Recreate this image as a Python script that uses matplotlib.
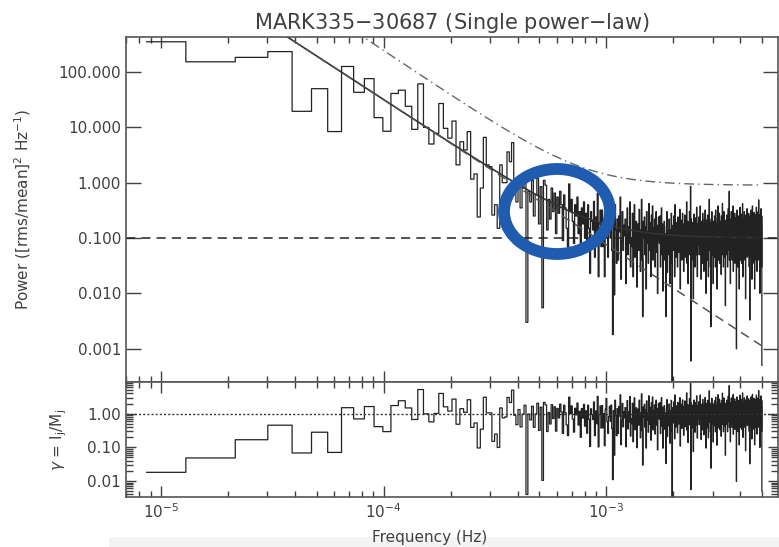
import numpy as np
import matplotlib
matplotlib.use('Agg')
import matplotlib.pyplot as plt
from matplotlib.patches import Ellipse, Rectangle
from matplotlib.ticker import FixedLocator, FixedFormatter, LogLocator, NullFormatter

# periodogram of MARK335 obs 30687, evenly spaced frequencies j*df
df = 8.63e-6  # Hz

# j = 1..40
power_low = [352, 153, 184, 234, 19.5, 50, 8.4, 126, 43, 76,
             15, 8.5, 41, 47, 24, 9.2, 61, 10, 5.0, 7.8,
             27, 9.6, 6.4, 13, 2.1, 5.5, 3.9, 8.4, 1.16, 1.44,
             0.24, 0.80, 6.6, 2.1, 1.95, 0.26, 0.40, 0.15, 2.1, 1.0]

# j = 41..100
power_mid = [1.0, 3.6, 2.4, 5.3, 0.9, 0.45, 1.2, 0.35, 0.8, 1.4,
             0.003, 0.7, 0.45, 1.1, 0.25, 0.6, 1.2, 0.18, 0.85, 0.0055,
             1.1, 0.9, 0.14, 0.5, 0.22, 0.8, 0.3, 0.65, 0.12, 0.55,
             0.28, 0.7, 0.4, 0.09, 0.6, 0.35, 0.15, 0.07, 0.95, 0.3,
             0.5, 0.2, 0.08, 0.4, 0.25, 0.55, 0.12, 0.3, 0.05, 0.35,
             0.18, 0.45, 0.1, 0.28, 0.06, 0.4, 0.15, 0.023, 0.3, 0.2]

# j = 101..579, noise dominated part
power_high = [
    0.14, 0.46, 0.045, 0.24, 0.1, 0.64, 0.02, 0.18, 0.32, 0.07,
    0.32, 0.07, 0.18, 0.02, 0.24, 0.5, 0.1, 0.045, 0.14, 0.28,
    0.1, 0.3, 0.06, 0.0018, 0.2, 0.0094, 0.4, 0.14, 0.035, 0.22,
    0.04, 0.25, 0.13, 0.55, 0.018, 0.09, 0.3, 0.06, 0.17, 0.11,
    0.22, 0.015, 0.12, 0.35, 0.05, 0.16, 0.08, 0.45, 0.03, 0.1,
    0.07, 0.28, 0.02, 0.15, 0.4, 0.045, 0.11, 0.2, 0.013, 0.13,
    0.18, 0.06, 0.33, 0.09, 0.025, 0.14, 0.5, 0.04, 0.0038, 0.2,
    0.1, 0.24, 0.05, 0.16, 0.012, 0.3, 0.08, 0.13, 0.035, 0.42,
    0.06, 0.19, 0.11, 0.02, 0.26, 0.09, 0.38, 0.04, 0.15, 0.07,
    0.22, 0.03, 0.12, 0.3, 0.055, 0.17, 0.01, 0.09, 0.24, 0.14,
    0.08, 0.25, 0.03, 0.13, 0.35, 0.05, 0.18, 0.011, 0.1, 0.055,
    0.2, 0.04, 0.12, 0.07, 0.0038, 0.16, 0.3, 0.024, 0.09, 0.14,
    0.05, 0.22, 0.1, 0.015, 0.14, 0.07, 0.28, 0.035, 0.00001, 0.12,
    0.17, 0.06, 0.25, 0.09, 0.02, 0.4, 0.11, 0.045, 0.19, 0.075,
    0.13, 0.03, 0.24, 0.08, 0.055, 0.16, 0.1, 0.33, 0.012, 0.07,
    0.21, 0.09, 0.04, 0.14, 0.28, 0.06, 0.12, 0.025, 0.18, 0.1,
    0.26, 0.045, 0.11, 0.16, 0.07, 0.45, 0.035, 0.13, 0.2, 0.015,
    0.09, 0.17, 0.12, 0.3, 0.05, 0.08, 0.86, 0.0006, 0.22, 0.04,
    0.14, 0.07, 0.19, 0.1, 0.008, 0.16, 0.27, 0.06, 0.12, 0.03,
    0.23, 0.09, 0.15, 0.05, 0.36, 0.11, 0.02, 0.18, 0.075, 0.13,
    0.11, 0.24, 0.05, 0.09, 0.16, 0.38, 0.07, 0.12, 0.018, 0.2,
    0.08, 0.14, 0.035, 0.28, 0.06, 0.13, 0.18, 0.025, 0.1, 0.22,
    0.05, 0.32, 0.09, 0.15, 0.01, 0.12, 0.21, 0.07, 0.04, 0.26,
    0.1, 0.16, 0.02, 0.13, 0.08, 0.5, 0.06, 0.19, 0.1, 0.03,
    0.14, 0.0025, 0.22, 0.09, 0.3, 0.05, 0.12, 0.17, 0.07, 0.015,
    0.2, 0.1, 0.045, 0.15, 0.25, 0.08, 0.13, 0.03, 0.32, 0.1,
    0.06, 0.18, 0.13, 0.012, 0.09, 0.23, 0.07, 0.38, 0.11, 0.04,
    0.16, 0.12, 0.28, 0.035, 0.08, 0.14, 0.2, 0.06, 0.1, 0.022,
    0.25, 0.09, 0.15, 0.05, 0.42, 0.11, 0.07, 0.19, 0.03, 0.13,
    0.3, 0.08, 0.045, 0.17, 0.12, 0.21, 0.006, 0.1, 0.14, 0.07,
    0.16, 0.05, 0.26, 0.1, 0.13, 0.03, 0.2, 0.08, 0.34, 0.06,
    0.12, 0.15, 0.7, 0.04, 0.11, 0.22, 0.07, 0.015, 0.18, 0.09,
    0.14, 0.3, 0.05, 0.1, 0.17, 0.04, 0.24, 0.12, 0.07, 0.38,
    0.025, 0.15, 0.09, 0.2, 0.06, 0.13, 0.28, 0.035, 0.11, 0.17,
    0.08, 0.23, 0.05, 0.14, 0.001, 0.1, 0.32, 0.07, 0.16, 0.12,
    0.03, 0.2, 0.09, 0.25, 0.06, 0.15, 0.11, 0.012, 0.22, 0.08,
    0.13, 0.36, 0.04, 0.1, 0.17, 0.07, 0.27, 0.12, 0.035, 0.19,
    0.09, 0.15, 0.06, 0.42, 0.11, 0.02, 0.18, 0.08, 0.23, 0.05,
    0.13, 0.1, 0.3, 0.07, 0.16, 0.04, 0.2, 0.12, 0.008, 0.09,
    0.26, 0.06, 0.14, 0.19, 0.08, 0.11, 0.34, 0.045, 0.17, 0.1,
    0.12, 0.22, 0.05, 0.09, 0.28, 0.07, 0.15, 0.03, 0.18, 0.11,
    0.0033, 0.17, 0.08, 0.25, 0.045, 0.13, 0.1, 0.32, 0.06, 0.2,
    0.09, 0.018, 0.16, 0.12, 0.38, 0.07, 0.14, 0.035, 0.23, 0.1,
    0.18, 0.05, 0.11, 0.29, 0.08, 0.15, 0.012, 0.21, 0.09, 0.13,
    0.06, 0.26, 0.11, 0.17, 0.04, 0.1, 0.36, 0.07, 0.14, 0.025,
    0.19, 0.09, 0.24, 0.12, 0.06, 0.16, 0.3, 0.08, 0.11, 0.49,
    0.04, 0.18, 0.1, 0.14, 0.26, 0.07, 0.01, 0.2, 0.09, 0.15,
    0.05, 0.23, 0.11, 0.34, 0.08, 0.17, 0.03, 0.25, 0.0005]

# single power-law + constant fit, and the upper limit curve
pl_norm, pl_index, noise_level = 31.7, 2.62, 0.1    # norm at 1e-4 Hz
ul_norm, ul_index, ul_level = 244.0, 2.68, 0.9

power = np.array(power_low + power_mid + power_high)
freq = df * np.arange(1, len(power) + 1)

pl = pl_norm * (freq / 1e-4) ** (-pl_index)
model = pl + noise_level
upper = ul_norm * (freq / 1e-4) ** (-ul_index) + ul_level
ratio = power / model

col = '#404040'
plt.rcParams['font.family'] = 'DejaVu Sans'
plt.rcParams['mathtext.fontset'] = 'dejavusans'

fig = plt.figure(figsize=(7.79, 5.47), dpi=100)
ax1 = fig.add_axes([0.1617, 0.3016, 0.8370, 0.6307])
ax2 = fig.add_axes([0.1617, 0.0914, 0.8370, 0.2102])

ax1.step(freq, power, where='mid', color='#222222', lw=0.9)
ax1.plot(freq, model, color='#333333', lw=1.2)
ax1.plot(freq, pl, color='#555555', lw=1.1, ls=(0, (6, 4)))
ax1.axhline(noise_level, color='#222222', lw=1.1, ls=(0, (6, 4)))
ax1.plot(freq, upper, color='#666666', lw=1.0, ls=(0, (7, 3, 1, 3)))

ax2.step(freq, ratio, where='mid', color='#222222', lw=0.9)
ax2.axhline(1.0, color='#333333', lw=1.0, ls=(0, (1.5, 1.5)))

for ax in (ax1, ax2):
    ax.set_xscale('log')
    ax.set_yscale('log')
    ax.set_xlim(6.97e-6, 5.9e-3)
    ax.tick_params(which='both', direction='in', top=True, right=True,
                   colors=col, labelsize=11, width=1.0)
    ax.tick_params(which='major', length=8)
    ax.tick_params(which='minor', length=4)
    ax.xaxis.set_major_locator(LogLocator(base=10))
    ax.xaxis.set_minor_locator(LogLocator(base=10, subs=np.arange(2, 10)))
    ax.xaxis.set_minor_formatter(NullFormatter())
    for s in ax.spines.values():
        s.set_color('#555555')
        s.set_linewidth(1.2)

ax1.set_ylim(2.5e-4, 429)
ax1.yaxis.set_major_locator(FixedLocator([1e-3, 1e-2, 1e-1, 1, 10, 100]))
ax1.yaxis.set_major_formatter(FixedFormatter(['0.001', '0.010', '0.100', '1.000', '10.000', '100.000']))
ax1.yaxis.set_minor_locator(FixedLocator([]))
ax1.tick_params(axis='y', which='major', length=11)
ax1.tick_params(axis='x', labelbottom=False)
ax1.set_title('MARK335$-$30687 (Single power$-$law)', fontsize=15, color=col, pad=6)
ax1.set_ylabel(r'Power ([rms/mean]$^2$ Hz$^{-1}$)', fontsize=11, color=col)
ax1.yaxis.set_label_coords(-0.143, 0.5)

ax2.set_ylim(3.35e-3, 8.7)
ax2.yaxis.set_major_locator(FixedLocator([0.01, 0.1, 1.0]))
ax2.yaxis.set_major_formatter(FixedFormatter(['0.01', '0.10', '1.00']))
ax2.yaxis.set_minor_locator(LogLocator(base=10, subs=np.arange(2, 10)))
ax2.yaxis.set_minor_formatter(NullFormatter())
ax2.tick_params(axis='y', which='major', length=7)
ax2.tick_params(axis='y', which='minor', length=5)
ax2.set_ylabel(r'$\gamma$ = I$_\mathrm{j}$/M$_\mathrm{j}$', fontsize=11, color=col)
ax2.yaxis.set_label_coords(-0.088, 0.5)
ax2.set_xlabel('Frequency (Hz)', fontsize=11, color=col)
ax2.xaxis.set_label_coords(0.466, -0.29)

# highlight circle
fig.patches.append(Ellipse((557 / 779, 1 - 211.5 / 547), 106 / 779, 85 / 547,
                           transform=fig.transFigure, fill=False,
                           edgecolor='#1f5cb0', lw=8.5, zorder=10))
# light band at the bottom of the screenshot
fig.patches.append(Rectangle((0.14, 0), 0.86, 0.018, transform=fig.transFigure,
                             facecolor='#f3f3f3', edgecolor='none', zorder=-1))

fig.savefig('out.png', dpi=100)
